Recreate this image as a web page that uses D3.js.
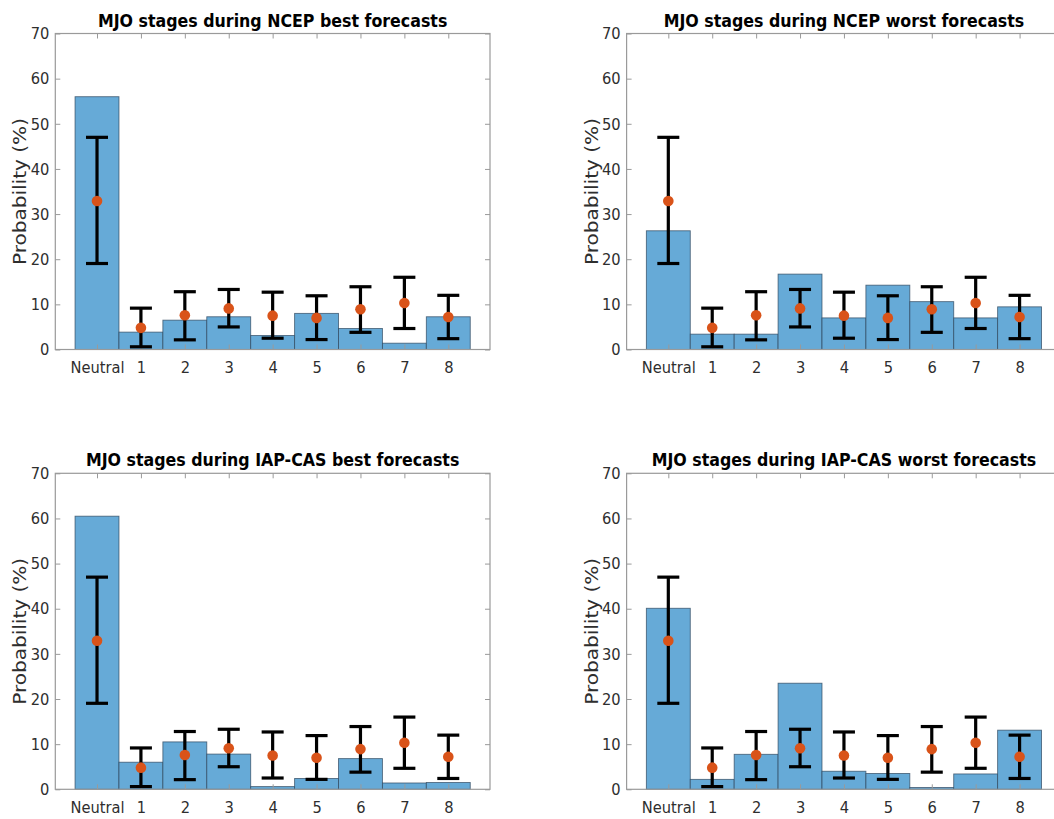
<!DOCTYPE html>
<html>
<head>
<meta charset="utf-8">
<script src="https://cdn.jsdelivr.net/npm/d3@7"></script>
<style>
  html, body { margin: 0; padding: 0; background: #fff; overflow: hidden; }
  svg { display: block; }
</style>
</head>
<body>
<svg id="chart" width="1054" height="819"></svg>
<script>
// ---- data ----
const categories = ["Neutral", "1", "2", "3", "4", "5", "6", "7", "8"];
const yTicks = [0, 10, 20, 30, 40, 50, 60, 70];

const ncepBest  = [56.0, 3.85, 6.5, 7.25, 3.1, 8.0, 4.65, 1.4, 7.25];
const ncepWorst = [26.3, 3.4, 3.4, 16.7, 7.0, 14.25, 10.6, 7.0, 9.45];
const iapBest   = [60.5, 6.0, 10.5, 7.8, 0.6, 2.4, 6.8, 1.4, 1.5];
const iapWorst  = [40.1, 2.2, 7.75, 23.5, 4.0, 3.5, 0.4, 3.4, 13.1];

// climatological mean and range (same in every panel)
const climMean = [32.9, 4.8, 7.6, 9.1, 7.5, 7.0, 8.9, 10.3, 7.2];
const climLow  = [19.05, 0.6, 2.14, 5.0, 2.5, 2.2, 3.8, 4.65, 2.4];
const climHigh = [47.0, 9.16, 12.8, 13.3, 12.7, 11.9, 13.9, 16.0, 12.0];

const titles = [
  "MJO stages during NCEP best forecasts",
  "MJO stages during NCEP worst forecasts",
  "MJO stages during IAP-CAS best forecasts",
  "MJO stages during IAP-CAS worst forecasts"
];
const series = [ncepBest, ncepWorst, iapBest, iapWorst];

// ---- layout ----
const panels = [
  { x0: 55.3,  x1: 490.0, y0: 33.5,  y1: 349.5 },
  { x0: 626.6, x1: 1061.3, y0: 33.5, y1: 349.5 },
  { x0: 55.3,  x1: 490.0, y0: 473.3, y1: 789.3 },
  { x0: 626.6, x1: 1061.3, y0: 473.3, y1: 789.3 }
];

const svg = d3.select("#chart");
const FONT = "'DejaVu Sans Condensed', 'DejaVu Sans', sans-serif";
const barFill = "rgb(102,170,215)";
const barEdge = "rgb(45,70,92)";
const axisColor = "#9a9a9a";
const textColor = "#2e2e2e";
const dotColor = "#D95319";

panels.forEach((p, pi) => {
  const vals = series[pi];
  const idx = d3.range(categories.length);
  const x = d3.scaleLinear().domain([-0.95, 8.95]).range([p.x0, p.x1]);
  const y = d3.scaleLinear().domain([0, 70]).range([p.y1, p.y0]);
  const g = svg.append("g");

  // bars
  g.selectAll("rect.bar").data(idx).join("rect")
    .attr("class", "bar")
    .attr("x", i => x(i - 0.5))
    .attr("width", i => x(i + 0.5) - x(i - 0.5))
    .attr("y", i => y(vals[i]))
    .attr("height", i => y(0) - y(vals[i]))
    .attr("fill", barFill)
    .attr("stroke", barEdge)
    .attr("stroke-opacity", 0.75)
    .attr("stroke-width", 0.9);

  // axes (ticks inside, box)
  const left = d3.axisLeft(y).tickValues(yTicks).tickSize(-5).tickPadding(6);
  const right = d3.axisRight(y).tickValues(yTicks).tickSize(-5).tickFormat("");
  const bottom = d3.axisBottom(x).tickValues(idx).tickFormat(i => categories[i]).tickSize(-5).tickPadding(12.3);
  const top = d3.axisTop(x).tickValues(idx).tickSize(-5).tickFormat("");

  const gl = g.append("g").attr("transform", `translate(${p.x0},0)`).call(left);
  const gr = g.append("g").attr("transform", `translate(${p.x1},0)`).call(right);
  const gb = g.append("g").attr("transform", `translate(0,${p.y1})`).call(bottom);
  const gt = g.append("g").attr("transform", `translate(0,${p.y0})`).call(top);
  [gl, gr, gb, gt].forEach(a => {
    a.select(".domain").remove();
    a.selectAll(".tick line").attr("stroke", axisColor).attr("stroke-width", 1);
    a.selectAll(".tick text").attr("fill", textColor)
      .style("font-family", FONT).style("font-size", "16.3px");
  });

  g.append("rect")
    .attr("x", p.x0).attr("y", p.y0)
    .attr("width", p.x1 - p.x0).attr("height", p.y1 - p.y0)
    .attr("fill", "none").attr("stroke", axisColor).attr("stroke-width", 1.2);

  // error bars
  const cap = 11;
  const eb = g.append("g").attr("stroke", "#000").attr("stroke-width", 3.2);
  eb.selectAll("line.v").data(idx).join("line")
    .attr("x1", i => x(i)).attr("x2", i => x(i))
    .attr("y1", i => y(climLow[i])).attr("y2", i => y(climHigh[i]));
  eb.selectAll("line.t").data(idx).join("line")
    .attr("x1", i => x(i) - cap).attr("x2", i => x(i) + cap)
    .attr("y1", i => y(climHigh[i])).attr("y2", i => y(climHigh[i]));
  eb.selectAll("line.b").data(idx).join("line")
    .attr("x1", i => x(i) - cap).attr("x2", i => x(i) + cap)
    .attr("y1", i => y(climLow[i])).attr("y2", i => y(climLow[i]));

  g.selectAll("circle.m").data(idx).join("circle")
    .attr("cx", i => x(i)).attr("cy", i => y(climMean[i]))
    .attr("r", 5.3).attr("fill", dotColor);

  // title
  g.append("text")
    .attr("x", (p.x0 + p.x1) / 2).attr("y", p.y0 - 7)
    .attr("text-anchor", "middle")
    .style("font-family", FONT).style("font-weight", "bold").style("font-size", "17.6px")
    .attr("fill", "#000")
    .text(titles[pi]);

  // y label
  g.append("text")
    .attr("transform", `translate(${p.x0 - 29},${(p.y0 + p.y1) / 2}) rotate(-90)`)
    .attr("text-anchor", "middle")
    .attr("textLength", 147).attr("lengthAdjust", "spacingAndGlyphs")
    .style("font-family", FONT).style("font-size", "17px")
    .attr("fill", textColor)
    .text("Probability (%)");
});
</script>
</body>
</html>
